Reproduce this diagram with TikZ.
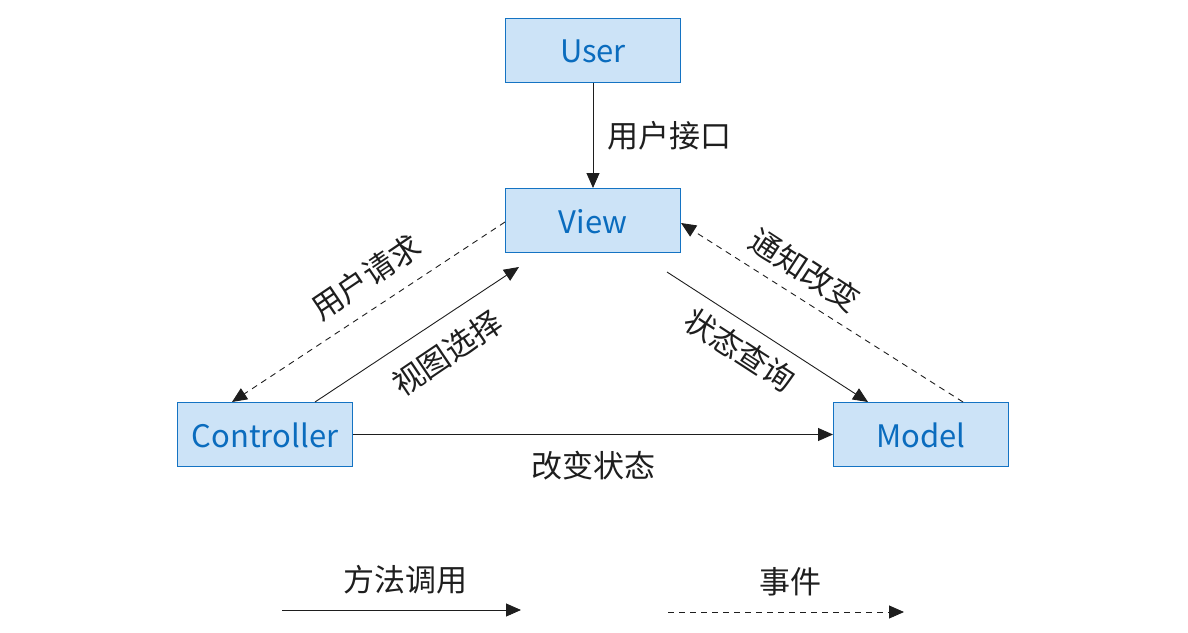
\documentclass[tikz,border=0pt]{standalone}
\usepackage{fontspec}
\setmainfont{Noto Sans CJK SC}
\usetikzlibrary{arrows.meta}
\definecolor{boxfill}{RGB}{204,227,247}
\definecolor{boxline}{RGB}{20,115,195}
\definecolor{boxtext}{RGB}{10,108,190}
\definecolor{ink}{RGB}{30,30,30}
\tikzset{
  mvcbox/.style={draw=boxline, fill=boxfill, line width=1pt, minimum width=175pt, minimum height=64pt, inner sep=0pt, text height=28pt, text depth=2.4pt, text=boxtext, font=\fontsize{31}{35}\selectfont},
  lbl/.style={text=ink, inner sep=0pt, font=\fontsize{31}{35}\selectfont},
  conn/.style={draw=ink, line width=0.9pt, -{Triangle[length=15pt,width=13pt]}},
  evt/.style={conn, dash pattern=on 6pt off 5pt}
}
\begin{document}
\begin{tikzpicture}[x=1pt,y=-1pt]
\useasboundingbox (0,0) rectangle (1188,632);
\node[mvcbox] (user) at (593,50) {User};
\node[mvcbox] (view) at (593,220.5) {View};
\node[mvcbox] (ctrl) at (265,434.5) {Controller};
\node[mvcbox] (model) at (921,434.5) {Model};
\coordinate (vl) at (505,222);
\coordinate (vr) at (681,223);
\coordinate (cv) at (519,267);
\coordinate (vm) at (667,272);
\coordinate (ct) at (315,402);
\coordinate (ctip) at (232,402);
\coordinate (mt) at (868,402);
\coordinate (ms) at (963,402);
\draw[conn] (user.south) -- (view.north);
\draw[evt] (vl) -- (ctip);
\draw[conn] (ct) -- (cv);
\draw[conn] (vm) -- (mt);
\draw[evt] (ms) -- (vr);
\draw[conn] (ctrl.east) -- (model.west);
\node[lbl, anchor=west] (l1) at (607,136) {用户接口};
\node[lbl, rotate=34] (l2) at (366,277) {用户请求};
\node[lbl, rotate=34] (l3) at (447,353) {视图选择};
\node[lbl, rotate=-33] (l4) at (805,270) {通知改变};
\node[lbl, rotate=-33] (l5) at (740,350) {状态查询};
\node[lbl] (l6) at (593,466) {改变状态};
\node[lbl] (l7) at (405,580) {方法调用};
\node[lbl] (l8) at (790,582) {事件};
\coordinate (a1) at (282,610);
\coordinate (a2) at (521,610);
\coordinate (b1) at (668,612);
\coordinate (b2) at (904,612);
\draw[conn] (a1) -- (a2);
\draw[evt] (b1) -- (b2);
\end{tikzpicture}
\end{document}
